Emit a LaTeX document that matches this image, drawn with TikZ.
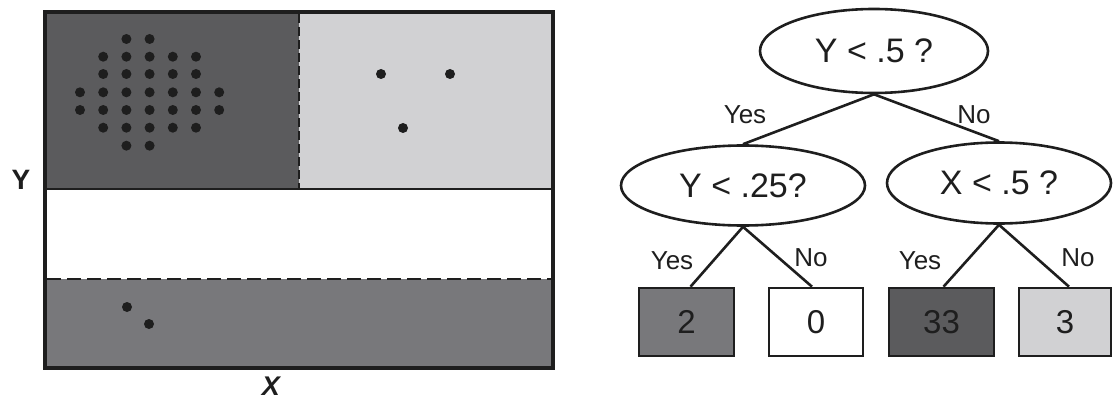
\documentclass[tikz,border=0pt]{standalone}
\usepackage{fontspec}
\setmainfont{Liberation Sans}
\usetikzlibrary{shapes.geometric}
\definecolor{cdark}{HTML}{5B5B5D}
\definecolor{clight}{HTML}{D1D1D3}
\definecolor{cmid}{HTML}{78787B}
\definecolor{cline}{HTML}{1E1E1E}
\begin{document}
\begin{tikzpicture}[x=1pt,y=-1pt,
  pt/.style={fill=cline,draw=none,circle,minimum size=10pt,inner sep=0pt},
  question/.style={ellipse,draw=cline,line width=2.6pt,inner sep=0pt,
    font=\fontsize{34}{40}\selectfont,text=cline},
  leaf/.style={rectangle,draw=cline,line width=2.6pt,inner sep=0pt,
    minimum width=95pt,minimum height=68pt,
    font=\fontsize{33}{40}\selectfont,text=cline},
  answer/.style={font=\fontsize{26}{30}\selectfont,text=cline,inner sep=0pt},
  branch/.style={draw=cline,line width=2.6pt},
  axislabel/.style={font=\fontsize{28}{32}\selectfont\bfseries,text=cline,inner sep=0pt}]
\useasboundingbox (0,0) rectangle (1113,401);

% ---- partition of the unit square ----
\fill[cdark]  (45,12) rectangle (299,189);
\fill[clight] (299,12) rectangle (553,189);
\fill[white]  (45,189) rectangle (553,279);
\fill[cmid]   (45,279) rectangle (553,368);
\draw[cline,line width=2.4pt,dash pattern=on 9pt off 4pt] (299,14) -- (299,188);
\draw[cline,line width=2.8pt] (45,189) -- (553,189);
\draw[cline,line width=2.8pt,dash pattern=on 14pt off 6pt] (47,279) -- (551,279);
\draw[cline,line width=3.2pt] (45,12) rectangle (553,368);

% points in the upper-left cell (33)
\foreach \row/\cols in {39/{3,4}, 56.7/{2,3,4,5,6}, 74/{2,3,4,5,6},
    92.3/{1,2,3,4,5,6,7}, 110/{1,2,3,4,5,6,7}, 127.7/{2,3,4,5,6}, 145.7/{3,4}} {
  \foreach \c in \cols {
    \node[pt] at ({80+23.2*(\c-1)},\row) {};
  }
}
% points in the upper-right cell (3)
\node[pt] (p1) at (381,74) {};
\node[pt] (p2) at (450,74) {};
\node[pt] (p3) at (403,128) {};
% points in the bottom cell (2)
\node[pt] (p4) at (127,307) {};
\node[pt] (p5) at (149,324) {};

% axis labels
\node[axislabel] (ylab) at (21,180) {Y};
\node[axislabel,font=\fontsize{27}{32}\selectfont\bfseries\itshape] (xlab) at (271,386) {X};

% ---- decision tree ----
\node[question,minimum width=228pt,minimum height=84pt] (root) at (874,51) {Y < .5 ?};
\node[question,minimum width=244pt,minimum height=80pt] (qy) at (743,185.5) {Y < .25?};
\node[question,minimum width=224pt,minimum height=81pt] (qx) at (999,183) {X < .5 ?};

\node[leaf,fill=cmid]   (l2)  at (686.5,322) {2};
\node[leaf,fill=white,minimum width=94pt] (l0)  at (816,322) {0};
\node[leaf,fill=cdark,minimum width=105pt] (l33) at (941.5,322) {33};
\node[leaf,fill=clight,minimum width=92pt] (l3)  at (1065,322) {3};

\draw[branch] (root.south) -- (qy.north);
\draw[branch] (root.south) -- (qx.north);
\draw[branch] (qy.south) -- ([xshift=4pt]l2.north);
\draw[branch] (qy.south) -- ([xshift=-4pt]l0.north);
\draw[branch] (qx.south) -- ([xshift=2pt]l33.north);
\draw[branch] (qx.south) -- ([xshift=4pt]l3.north);

\node[answer] (a1) at (745,115) {Yes};
\node[answer] (a2) at (974,115) {No};
\node[answer] (a3) at (672,261) {Yes};
\node[answer] (a4) at (811,258) {No};
\node[answer] (a5) at (920,261) {Yes};
\node[answer] (a6) at (1078,258) {No};
\end{tikzpicture}
\end{document}
